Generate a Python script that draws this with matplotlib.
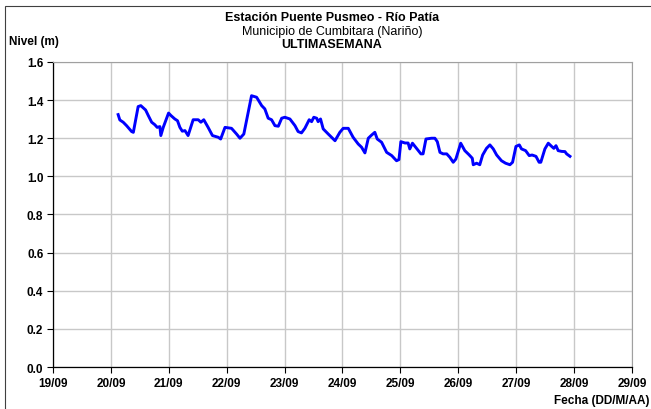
import matplotlib
matplotlib.use("Agg")
import matplotlib.pyplot as plt
import matplotlib.dates as mdates
from matplotlib.patches import Rectangle
from datetime import datetime, timedelta

plt.rcParams['font.family'] = ['Liberation Sans', 'DejaVu Sans']

START = datetime(2023, 9, 20)

# hours after 20/09 00:00 and river level (m)
hours = [3.0, 3.7, 5.1, 6.5, 8.6, 9.3, 11.3, 12.4, 14.4, 15.5, 16.9, 18.2,
         19.2, 20.3, 20.7, 21.7, 23.9, 24.9, 26.5, 27.6, 28.6, 29.6, 30.7,
         32.0, 34.1, 36.2, 37.3, 38.5, 40.3, 42.1, 44.5, 45.5, 47.3, 50.0,
         52.1, 53.5, 55.1, 58.3, 60.4, 62.5, 63.8, 65.2, 66.6, 68.0, 69.4,
         70.8, 72.1, 74.2, 76.3, 77.6, 79.0, 80.4, 82.2, 83.2, 84.1, 85.3,
         85.9, 86.9, 88.0, 90.1, 92.9, 94.9, 96.3, 98.4, 100.4, 102.5, 103.9,
         105.3, 106.7, 108.1, 109.4, 110.4, 112.2, 114.3, 116.4, 118.4, 119.4,
         120.2, 121.9, 123.2, 123.9, 125.0, 126.7, 128.5, 129.4, 130.6, 132.9,
         134.3, 135.3, 136.4, 137.7, 139.2, 140.5, 141.9, 143.0, 145.0, 146.7,
         148.4, 149.8, 150.2, 151.6, 152.9, 154.1, 155.7, 157.1, 158.5, 159.9,
         161.9, 163.6, 165.4, 166.5, 167.9, 169.3, 170.2, 171.9, 173.4, 174.6,
         176.2, 177.5, 178.2, 179.9, 181.3, 182.7, 183.6, 184.5, 185.4, 186.8,
         188.2, 188.9, 190.3]
nivel = [1.324, 1.296, 1.284, 1.266, 1.235, 1.231, 1.366, 1.371, 1.348, 1.319,
         1.284, 1.271, 1.257, 1.261, 1.214, 1.257, 1.332, 1.319, 1.301, 1.292,
         1.257, 1.237, 1.240, 1.214, 1.297, 1.297, 1.284, 1.297, 1.257, 1.214,
         1.205, 1.196, 1.257, 1.252, 1.222, 1.200, 1.222, 1.423, 1.415, 1.371,
         1.354, 1.305, 1.297, 1.266, 1.263, 1.305, 1.310, 1.301, 1.266, 1.235,
         1.228, 1.252, 1.297, 1.287, 1.310, 1.305, 1.287, 1.301, 1.249, 1.222,
         1.187, 1.231, 1.252, 1.252, 1.205, 1.170, 1.153, 1.123, 1.200, 1.217,
         1.231, 1.196, 1.179, 1.126, 1.109, 1.082, 1.088, 1.182, 1.175, 1.175,
         1.144, 1.174, 1.147, 1.118, 1.118, 1.196, 1.200, 1.200, 1.182, 1.126,
         1.118, 1.118, 1.100, 1.074, 1.091, 1.174, 1.135, 1.114, 1.095, 1.061,
         1.069, 1.061, 1.112, 1.147, 1.165, 1.144, 1.112, 1.082, 1.069, 1.061,
         1.074, 1.157, 1.165, 1.144, 1.135, 1.109, 1.112, 1.105, 1.074, 1.074,
         1.144, 1.174, 1.157, 1.147, 1.161, 1.135, 1.131, 1.130, 1.118, 1.105]

fechas = [START + timedelta(hours=h) for h in hours]

fig = plt.figure(figsize=(6.51, 4.10), dpi=100)
ax = fig.add_axes([0.0814, 0.1024, 0.8894, 0.744])

ax.plot(fechas, nivel, color='#0000ff', lw=2.1)

ax.set_ylim(0, 1.6)
ax.set_yticks([0.0, 0.2, 0.4, 0.6, 0.8, 1.0, 1.2, 1.4, 1.6])
ax.yaxis.set_major_formatter(plt.FuncFormatter(lambda v, p: f"{v:.1f}"))
ax.set_xlim(datetime(2023, 9, 19), datetime(2023, 9, 29))
ax.xaxis.set_major_locator(mdates.DayLocator())
ax.xaxis.set_major_formatter(mdates.DateFormatter('%d/%m'))

ax.grid(True, color='#c8c8c8', lw=1.0)
ax.set_axisbelow(True)
for s in ['top', 'right']:
    ax.spines[s].set_color('#a0a0a0')
for s in ['left', 'bottom']:
    ax.spines[s].set_color('black')
    ax.spines[s].set_linewidth(0.9)
ax.tick_params(axis='both', direction='out', length=4, width=0.8,
               labelsize=8.5, pad=3)
for lbl in ax.get_xticklabels() + ax.get_yticklabels():
    lbl.set_fontweight('bold')

fig.text(0.51, 0.957, "Estación Puente Pusmeo - Río Patía", ha='center',
         va='center', fontsize=9, fontweight='bold')
fig.text(0.51, 0.923, "Municipio de Cumbitara (Nariño)", ha='center',
         va='center', fontsize=9)
fig.text(0.51, 0.890, "ULTIMASEMANA", ha='center', va='center',
         fontsize=9, fontweight='bold')
fig.text(0.014, 0.897, "Nivel (m)", ha='left', va='center', fontsize=8.5,
         fontweight='bold')
fig.text(0.997, 0.022, "Fecha (DD/M/AA)", ha='right', va='center',
         fontsize=8.5, fontweight='bold')

# outer frame
fig.patches.append(Rectangle((5 / 651, -0.1), 1.2, 1.1 - 7 / 410,
                             transform=fig.transFigure, fill=False,
                             edgecolor='#404040', lw=0.8))

fig.savefig("out.png", dpi=100)
